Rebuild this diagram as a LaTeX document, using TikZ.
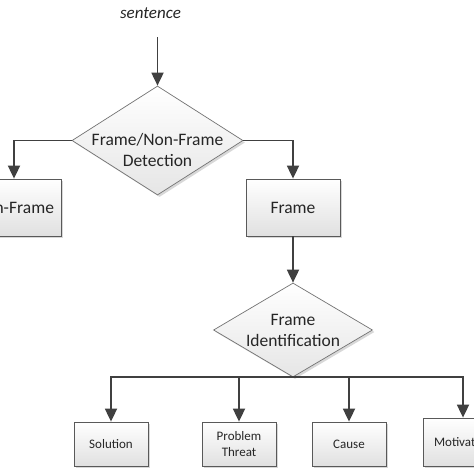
\documentclass[tikz,border=0pt]{standalone}
\usepackage{fontspec}
\setmainfont{Carlito}
\usetikzlibrary{arrows.meta,shapes.geometric,shadows}
\begin{document}
\begin{tikzpicture}[x=1pt,y=-1pt,
  conn/.style={draw=black!75, line width=1.8pt, -{Triangle[width=12pt,length=13pt]}},
  boxsh/.style={drop shadow={shadow xshift=2pt,shadow yshift=-2pt,fill=black!30,opacity=0.5}},
  box/.style={boxsh, draw=black!65, line width=0.8pt, top color=white, bottom color=black!12, inner sep=0pt, text=black!85, align=center},
  dia/.style={diamond, boxsh, draw=black!55, line width=0.7pt, top color=white, bottom color=black!10, inner sep=0pt},
  big/.style={font=\fontsize{17.5}{21}\selectfont},
  small/.style={font=\fontsize{13}{16}\selectfont},
  lbl/.style={text=black!85, align=center, inner sep=0pt}
]
\useasboundingbox (0,0) rectangle (474,474);
\clip (0,0) rectangle (474,474);
\fill[white] (0,0) rectangle (474,474);

\node[lbl, font=\fontsize{17}{20}\selectfont\itshape] (sent) at (150.5,13) {sentence};
\coordinate (s0) at (157.5,37);

\node[dia, minimum width=171pt, minimum height=109pt] (d1) at (157.5,140.5) {};
\node[lbl, big] (d1t) at (157.5,150) {Frame/Non-Frame\\Detection};

\node[box, big, minimum width=94pt, minimum height=57pt] (nf) at (14,207.5) {Non-Frame};
\node[box, big, minimum width=94pt, minimum height=57pt] (fr) at (293,207.5) {Frame};

\node[dia, minimum width=159pt, minimum height=94pt] (d2) at (293,330) {};
\node[lbl, big] (d2t) at (293,330) {Frame\\Identification};

\node[box, small, minimum width=74pt, minimum height=44pt] (b1) at (111,444) {Solution};
\node[box, small, minimum width=74pt, minimum height=44pt] (b2) at (239,444) {Problem\\Threat};
\node[box, small, minimum width=74pt, minimum height=44pt] (b3) at (349,444) {Cause};
\node[box, small, minimum width=80pt, minimum height=48pt] (b4) at (463,442) {Motivation};

\draw[conn] (s0) -- (d1.north);
\draw[conn] (d1.west) -| (nf.north);
\draw[conn] (d1.east) -| (fr.north);
\draw[conn] (fr.south) -- (d2.north);
\draw[conn] (d2.south) -| (b1.north);
\draw[conn] (d2.south) -| (b2.north);
\draw[conn] (d2.south) -| (b3.north);
\draw[conn] (d2.south) -| (b4.north);
\end{tikzpicture}
\end{document}
